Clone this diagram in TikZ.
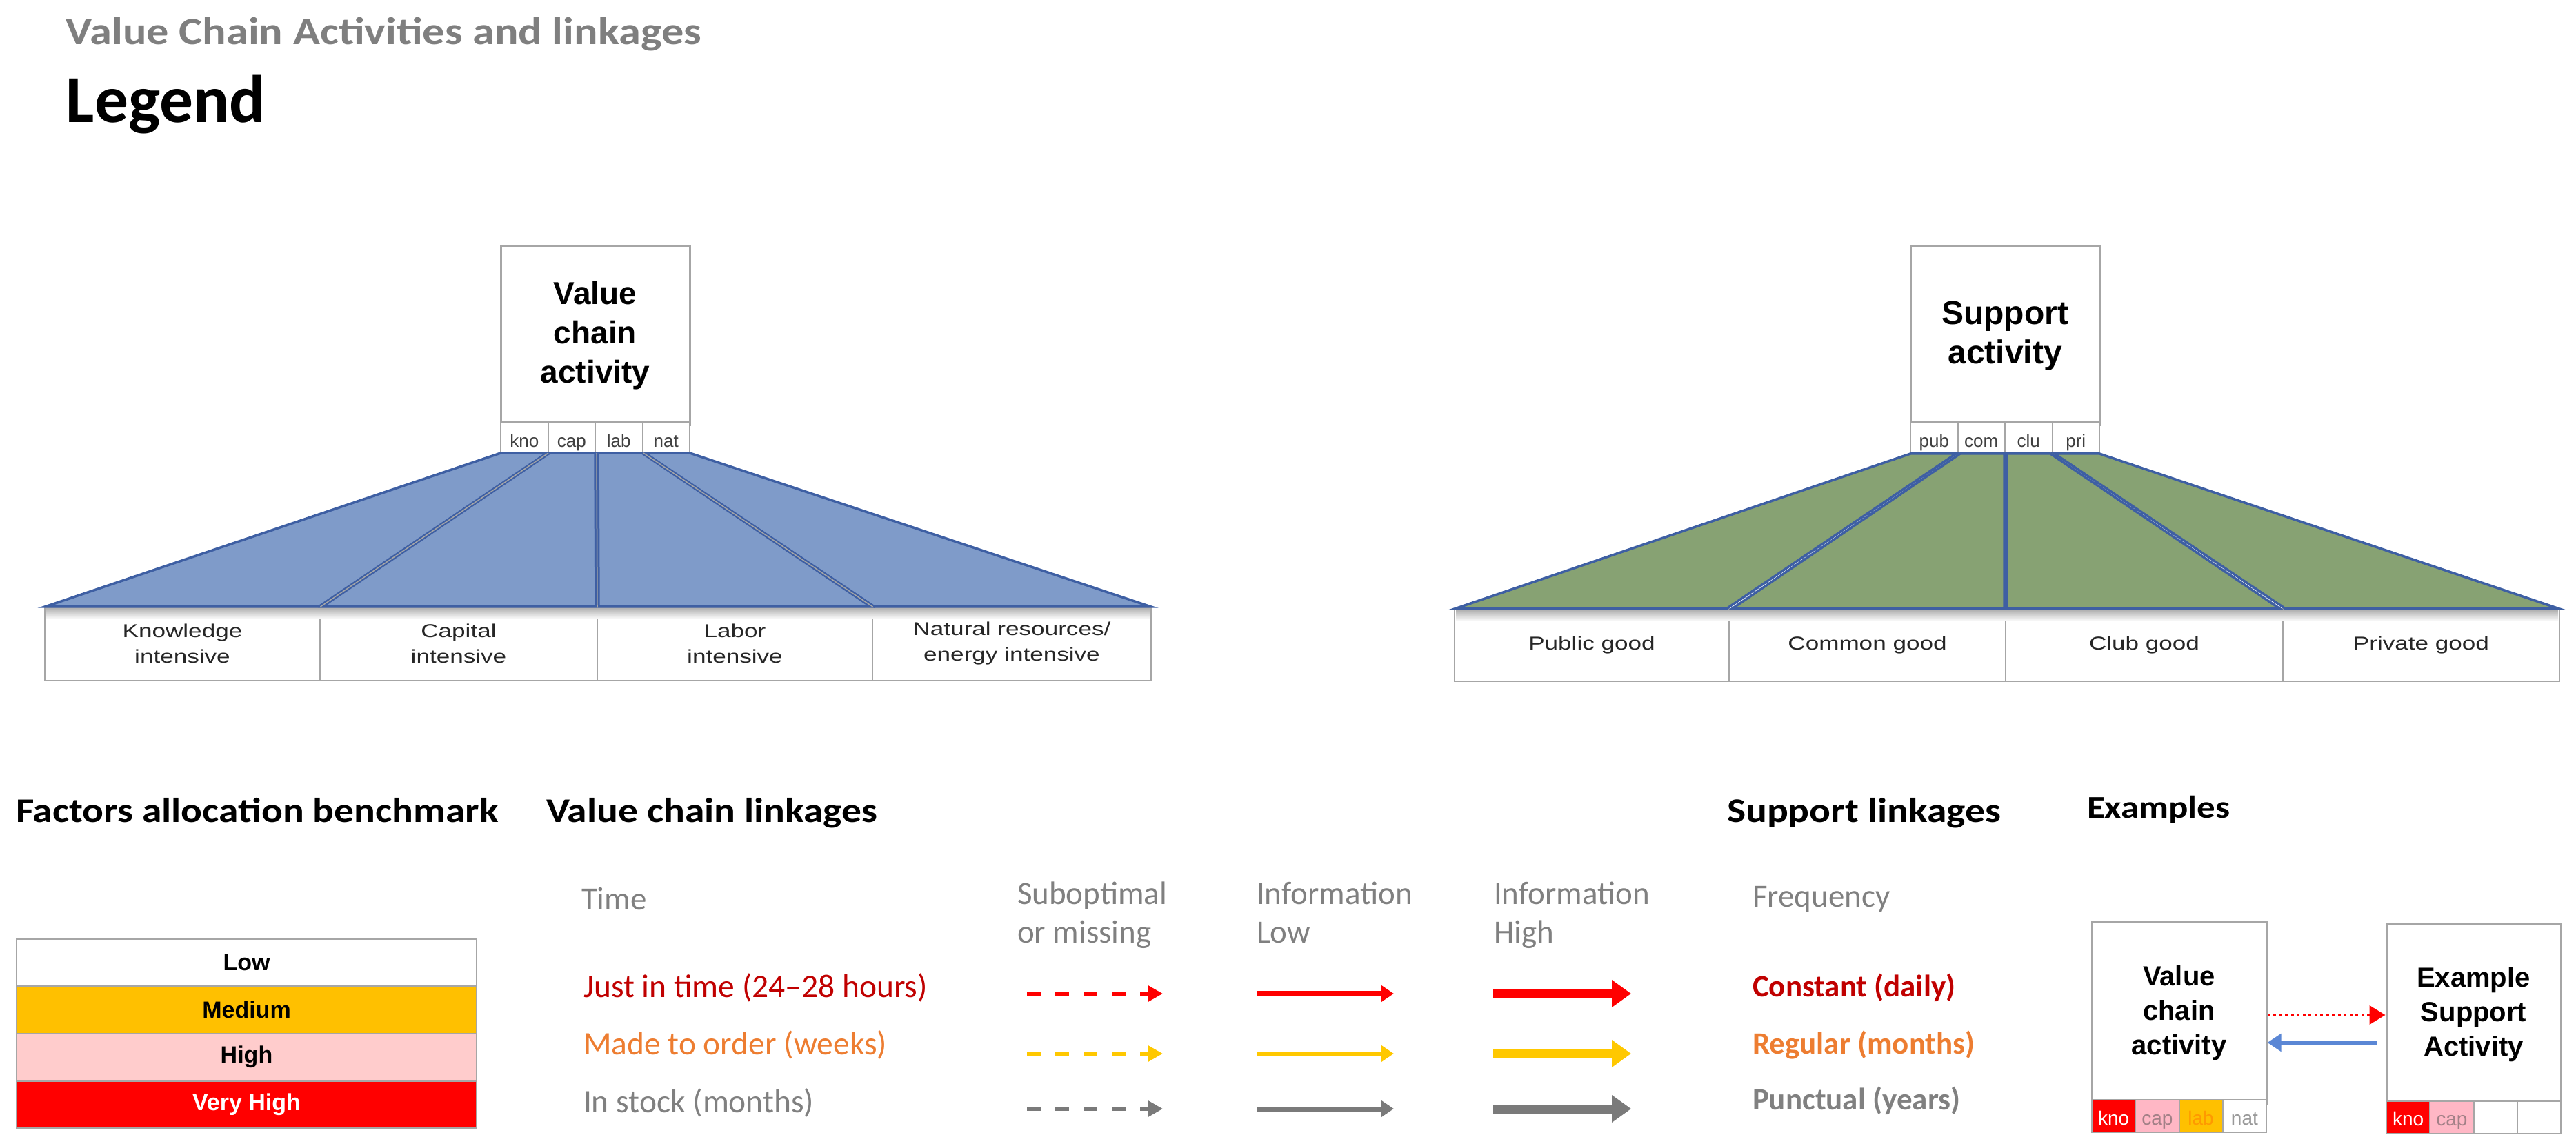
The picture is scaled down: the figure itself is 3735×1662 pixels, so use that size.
\documentclass[tikz,border=0pt]{standalone}
\usepackage{fontspec}
\setmainfont{Carlito}
\newfontfamily\calw[FakeStretch=1.15]{Carlito}
\newfontfamily\ars{Liberation Sans}
\newfontfamily\arsw[FakeStretch=1.3]{Liberation Sans}
\usetikzlibrary{arrows.meta}
\definecolor{fanblue}{HTML}{7F9BC9}
\definecolor{fanedge}{HTML}{3E5FA3}
\definecolor{fangreen}{HTML}{87A273}
\definecolor{boxgray}{HTML}{A6A6A6}
\definecolor{txtgray}{HTML}{808080}
\definecolor{titlegray}{HTML}{7F7F7F}
\definecolor{darkred}{HTML}{C00000}
\definecolor{orng}{HTML}{ED7D31}
\definecolor{gold}{HTML}{FFC000}
\definecolor{arrgold}{HTML}{FFC800}
\definecolor{pinkh}{HTML}{FFCCCC}
\definecolor{pinkc}{HTML}{FFB7C5}
\definecolor{arrgray}{HTML}{7A7A7A}
\definecolor{exblue}{HTML}{5B87D5}
\newcommand\myfs[2]{\fontsize{#1}{#2}\selectfont}
\begin{document}
\begin{tikzpicture}[x=0.2pt,y=-0.2pt,
  txt/.style={inner sep=0pt, anchor=base west},
  actbox/.style={draw=boxgray, line width=0.6pt, fill=white, inner sep=0pt, align=center},
  subbox/.style={draw=boxgray, line width=0.4pt, fill=white, inner sep=0pt,
    minimum width=68.5*0.2pt, minimum height=38*0.2pt, text height=0.72em, text depth=0.22em,
    font=\ars\myfs{5.2pt}{6pt}, text=black!75},
  exsub/.style={draw=boxgray, line width=0.4pt, inner sep=0pt,
    minimum width=63.25*0.2pt, minimum height=37*0.2pt, text height=0.72em, text depth=0.22em,
    font=\ars\myfs{5.6pt}{6pt}},
  goodbox/.style={draw=boxgray, line width=0.4pt, fill=white, inner sep=0pt, align=center,
    font=\arsw\myfs{5.4pt}{7.4pt}, text=black!85},
  fanv/.style={fill=fanblue, draw=fanedge, line width=0.7pt, line join=miter},
  fang/.style={fill=fangreen, draw=fanedge, line width=0.7pt, line join=miter},
  benchrow/.style={draw=boxgray, line width=0.4pt, inner sep=0pt, minimum width=667*0.2pt,
    minimum height=68.5*0.2pt, font=\ars\bfseries\myfs{6.8pt}{8pt}},
  heading/.style={txt, font=\calw\bfseries\myfs{10pt}{12pt}},
  colhead/.style={txt, font=\myfs{9.4pt}{11pt}, text=txtgray},
  rowlab/.style={txt, font=\myfs{9.5pt}{11pt}},
  suplab/.style={txt, font=\bfseries\myfs{9pt}{11pt}},
  dasharr/.style={line width=1.1pt, dash pattern=on 4pt off 4.2pt, -{Triangle[length=4.4pt,width=4.6pt]}},
  lowarr/.style={line width=1.4pt, -{Triangle[length=3.8pt,width=4.8pt]}},
  higharr/.style={line width=2.6pt, -{Triangle[length=5.6pt,width=7.6pt]}}
]
\useasboundingbox (0,0) rectangle (3735,1662);

% ---------- titles
\node[txt, text=titlegray, font=\calw\bfseries\myfs{11.2pt}{13pt}] (title) at (95,65) {Value Chain Activities and linkages};
\node[txt, font=\bfseries\myfs{19.5pt}{22pt}] (legend) at (95,178) {Legend};

% ---------- value chain activity (top left)
\node[actbox, minimum width=274*0.2pt, minimum height=260*0.2pt,
  font=\ars\bfseries\myfs{9.2pt}{11.4pt}] (vc) at (863,487) {Value\\chain\\activity};
\foreach \t [count=\k] in {kno,cap,lab,nat}
  \node[subbox] (vcs\k) at ({760.25+68.5*(\k-1)},636) {\t};

% bottom boxes (value chain)
\node[goodbox, minimum width=399*0.2pt, minimum height=107*0.2pt] (vb1) at (264.5,933.5) {Knowledge\\intensive};
\node[goodbox, minimum width=402*0.2pt, minimum height=107*0.2pt] (vb2) at (665,933.5) {Capital\\intensive};
\node[goodbox, minimum width=399*0.2pt, minimum height=107*0.2pt] (vb3) at (1065.5,933.5) {Labor\\intensive};
\node[goodbox, minimum width=404*0.2pt, minimum height=107*0.2pt] (vb4) at (1467,933.5) {Natural resources/\\energy intensive};
\shade[top color=black!30, bottom color=white] (67,882) rectangle (1667,898);

% fan (value chain)
\filldraw[fanv] (726,657) -- (793,657) -- (462,880) -- (65,880) -- cycle;
\filldraw[fanv] (797,657) -- (863,657) -- (864,880) -- (467,880) -- cycle;
\filldraw[fanv] (867,657) -- (931,657) -- (1263,880) -- (868,880) -- cycle;
\filldraw[fanv] (935,657) -- (1000,657) -- (1669,880) -- (1268,880) -- cycle;
\draw[boxgray, line width=0.3pt] (795,657) -- (464.5,880) (865,657) -- (866,880) (933,657) -- (1265.5,880);

% ---------- support activity (top right)
\node[actbox, minimum width=274*0.2pt, minimum height=260*0.2pt,
  font=\ars\bfseries\myfs{9.6pt}{11.4pt}] (sa) at (2907,487) {Support\\activity};
\foreach \t [count=\k] in {pub,com,clu,pri}
  \node[subbox] (sas\k) at ({2804.25+68.5*(\k-1)},636) {\t};

\node[goodbox, minimum width=398*0.2pt, minimum height=105*0.2pt] (sb1) at (2308,935.5) {Public good};
\node[goodbox, minimum width=401*0.2pt, minimum height=105*0.2pt] (sb2) at (2707.5,935.5) {Common good};
\node[goodbox, minimum width=402*0.2pt, minimum height=105*0.2pt] (sb3) at (3109,935.5) {Club good};
\node[goodbox, minimum width=401*0.2pt, minimum height=105*0.2pt] (sb4) at (3510.5,935.5) {Private good};
\shade[top color=black!30, bottom color=white] (2111,885) rectangle (3709,901);

\filldraw[fang] (2770,658) -- (2836,658) -- (2503,883) -- (2109,883) -- cycle;
\filldraw[fang] (2842,658) -- (2906,658) -- (2906,883) -- (2511,883) -- cycle;
\filldraw[fang] (2910,658) -- (2973,658) -- (3306,883) -- (2910,883) -- cycle;
\filldraw[fang] (2979,658) -- (3044,658) -- (3711,883) -- (3314,883) -- cycle;

% ---------- section headings
\node[heading] (h1) at (22,1193) {Factors allocation benchmark};
\node[heading] (h2) at (791,1193) {Value chain linkages};
\node[heading] (h3) at (2503,1193) {Support linkages};
\node[txt, font=\calw\bfseries\myfs{9.2pt}{11pt}] (h4) at (3025,1187) {Examples};

% ---------- factors allocation benchmark
\node[benchrow, fill=white, text=black] (low) at (357.5,1396.25) {Low};
\node[benchrow, fill=gold, text=black] (med) at (357.5,1464.75) {Medium};
\node[benchrow, fill=pinkh, text=black] (hig) at (357.5,1533.25) {High};
\node[benchrow, fill=red, text=white] (vhi) at (357.5,1601.75) {Very High};

% ---------- value chain linkages
\node[colhead] (time) at (842,1320) {Time};
\node[colhead] (sub1) at (1474,1312) {Suboptimal};
\node[colhead] (sub2) at (1474,1368) {or missing};
\node[colhead] (il1) at (1821,1312) {Information};
\node[colhead] (il2) at (1821,1368) {Low};
\node[colhead] (ih1) at (2165,1312) {Information};
\node[colhead] (ih2) at (2165,1368) {High};

\node[rowlab, text=darkred] (r1) at (845,1446) {Just in time (24--28 hours)};
\node[rowlab, text=orng] (r2) at (845,1530) {Made to order (weeks)};
\node[rowlab, text=txtgray] (r3) at (845,1613) {In stock (months)};

\foreach \y/\c [count=\k] in {1441/red,1528/arrgold,1608/arrgray} {
  \coordinate (ds\k) at (1489,\y); \coordinate (de\k) at (1686,\y);
  \coordinate (ls\k) at (1823,\y); \coordinate (le\k) at (2021,\y);
  \coordinate (hs\k) at (2165,\y); \coordinate (he\k) at (2365,\y);
  \draw[dasharr, draw=\c] (ds\k) -- (de\k);
  \draw[lowarr, draw=\c] (ls\k) -- (le\k);
  \draw[higharr, draw=\c] (hs\k) -- (he\k);
}

% ---------- support linkages
\node[colhead] (freq) at (2540,1316) {Frequency};
\node[suplab, text=darkred] (s1) at (2540,1445) {Constant (daily)};
\node[suplab, text=orng] (s2) at (2540,1528) {Regular (months)};
\node[suplab, text=txtgray] (s3) at (2540,1609) {Punctual (years)};

% ---------- examples
\node[actbox, minimum width=253*0.2pt, minimum height=262*0.2pt,
  font=\ars\bfseries\myfs{8pt}{10pt}] (exvc) at (3159.5,1469) {Value\\chain\\activity};
\node[exsub, fill=red, text=white] (exvc1) at (3064.6,1618.5) {kno};
\node[exsub, fill=pinkc, text=black!30!pinkc!70!gray] (exvc2) at (3127.9,1618.5) {cap};
\node[exsub, fill=gold, text=orange!60!gold] (exvc3) at (3191.1,1618.5) {lab};
\node[exsub, fill=white, text=black!40] (exvc4) at (3254.4,1618.5) {nat};

\node[actbox, minimum width=253*0.2pt, minimum height=262*0.2pt,
  font=\ars\bfseries\myfs{8pt}{10pt}] (exsa) at (3586.5,1471) {Example\\Support\\Activity};
\node[exsub, fill=red, text=white] (exsa1) at (3491.6,1620) {kno};
\node[exsub, fill=pinkc, text=black!30!pinkc!70!gray] (exsa2) at (3554.9,1620) {cap};
\node[exsub, fill=white] (exsa3) at (3618.1,1620) {};
\node[exsub, fill=white] (exsa4) at (3681.4,1620) {};

\coordinate (redy) at (0,1472);
\coordinate (bluey) at (0,1512);
\draw[red, line width=0.7pt, dash pattern=on 0.8pt off 0.9pt, -{Triangle[length=4.6pt,width=5.4pt]}]
  (exvc.east |- redy) -- (exsa.west |- redy);
\draw[exblue, line width=1pt, shorten <=2.4pt, -{Triangle[length=4pt,width=5pt]}]
  (exsa.west |- bluey) -- (exvc.east |- bluey);
\end{tikzpicture}
\end{document}
